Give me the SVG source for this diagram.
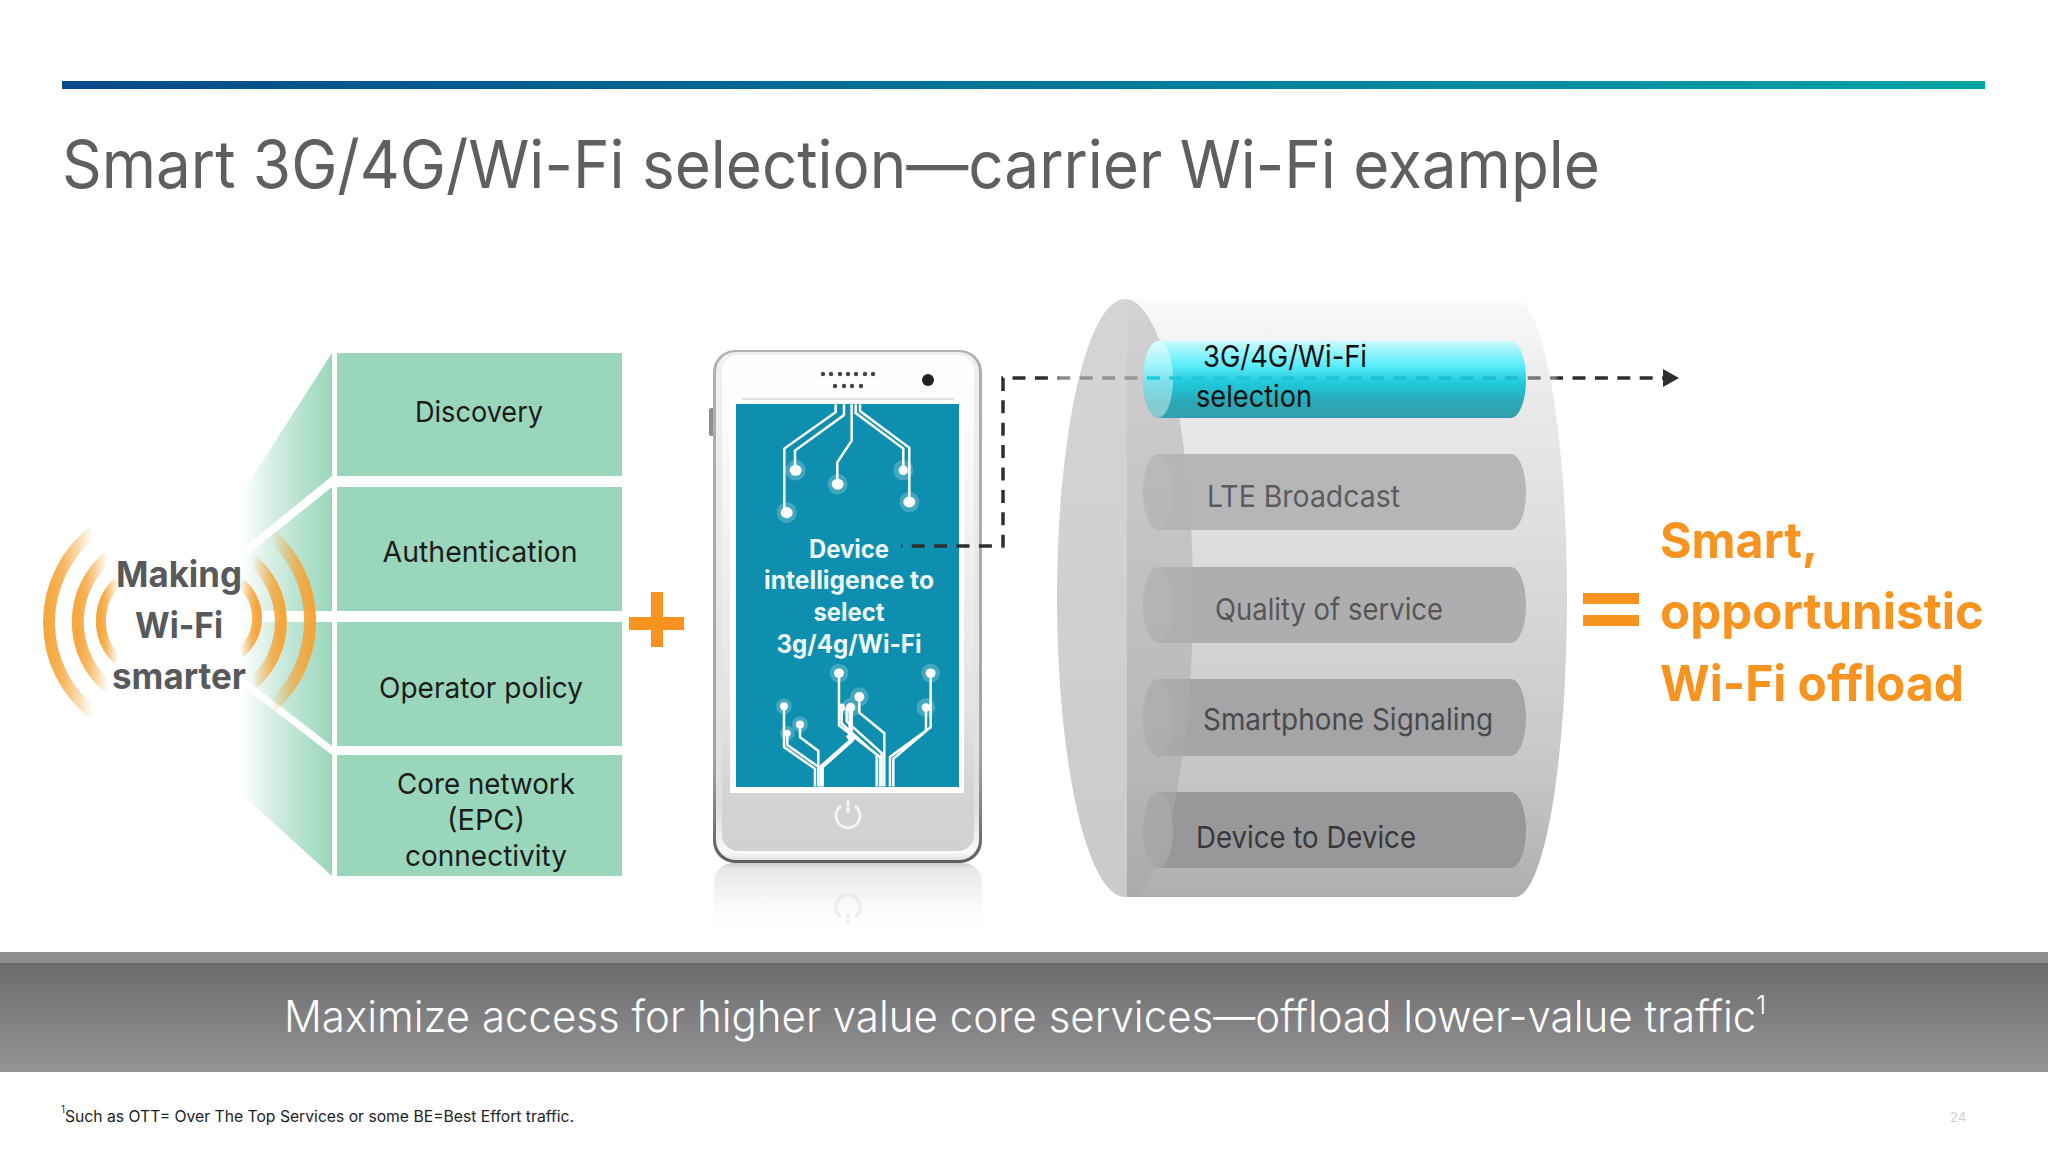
<svg xmlns="http://www.w3.org/2000/svg" width="2048" height="1153" viewBox="0 0 2048 1153">
<style>
text{font-family:"Inter","Liberation Sans",sans-serif;}
.box{fill:#9AD6BC}
.bt{font-size:29px;fill:#1c1c1c;text-anchor:middle;font-weight:400}
.wf{font-size:36px;font-weight:700;fill:#58595B;text-anchor:middle}
.ph{font-size:25px;font-weight:700;fill:#eef8fb;text-anchor:middle}
.sm{font-size:50px;font-weight:700;fill:#F7931E}
.ly{font-size:30px}
.or{fill:#F7931E}
.cap{fill:#fff;opacity:.14}
.dash{fill:none;stroke:url(#dashg);stroke-width:3.5;stroke-dasharray:13 9.4;stroke-dashoffset:11.7}
.tr{fill:none;stroke:#fff;stroke-width:2.5;vector-effect:non-scaling-stroke}
.trb{fill:none;stroke:#fff;stroke-width:4.5;vector-effect:non-scaling-stroke}
.glow{fill:#fff;opacity:.22}
</style>
<defs>
<linearGradient id="rule" x1="0" x2="1" y1="0" y2="0"><stop offset="0" stop-color="#05498A"/><stop offset="1" stop-color="#00A3A6"/></linearGradient>
<linearGradient id="band" x1="0" x2="0" y1="0" y2="1"><stop offset="0" stop-color="#6C6B6E"/><stop offset="1" stop-color="#949396"/></linearGradient>
<linearGradient id="wedge" gradientUnits="userSpaceOnUse" x1="332" y1="0" x2="240" y2="0"><stop offset="0" stop-color="#9AD6BC"/><stop offset=".45" stop-color="#9AD6BC" stop-opacity=".62"/><stop offset="1" stop-color="#9AD6BC" stop-opacity="0"/></linearGradient>
<linearGradient id="rl" x1="0" x2="1" y1="0" y2="0"><stop offset="0" stop-color="#F5A336" stop-opacity=".95"/><stop offset=".3" stop-color="#F5A336" stop-opacity=".8"/><stop offset=".7" stop-color="#F5A336" stop-opacity=".35"/><stop offset="1" stop-color="#F5A336" stop-opacity="0"/></linearGradient>
<linearGradient id="rr" x1="1" x2="0" y1="0" y2="0"><stop offset="0" stop-color="#F5A336" stop-opacity=".95"/><stop offset=".3" stop-color="#F5A336" stop-opacity=".8"/><stop offset=".7" stop-color="#F5A336" stop-opacity=".35"/><stop offset="1" stop-color="#F5A336" stop-opacity="0"/></linearGradient>
<linearGradient id="phoneEdge" x1="0" x2="0" y1="0" y2="1"><stop offset="0" stop-color="#B0B0B3"/><stop offset=".8" stop-color="#A4A4A7"/><stop offset="1" stop-color="#5E5E61"/></linearGradient>
<linearGradient id="phoneRim" x1="0" x2="0" y1="0" y2="1"><stop offset="0" stop-color="#F0F0F1"/><stop offset=".5" stop-color="#E6E6E7"/><stop offset=".9" stop-color="#DEDEE0"/><stop offset=".985" stop-color="#FAFAFA"/><stop offset="1" stop-color="#E0E0E1"/></linearGradient>
<linearGradient id="phoneIn" x1="0" x2="0" y1="0" y2="1"><stop offset="0" stop-color="#FFFFFF"/><stop offset=".1" stop-color="#FCFCFC"/><stop offset=".7" stop-color="#E4E4E5"/><stop offset=".88" stop-color="#D4D4D6"/><stop offset="1" stop-color="#D1D1D3"/></linearGradient>
<linearGradient id="refl" x1="0" x2="0" y1="0" y2="1"><stop offset="0" stop-color="#BEBEC1" stop-opacity=".8"/><stop offset=".07" stop-color="#E2E2E4" stop-opacity=".85"/><stop offset=".4" stop-color="#ECECED" stop-opacity=".6"/><stop offset="1" stop-color="#fff" stop-opacity="0"/></linearGradient>
<linearGradient id="cyl" x1="0" x2="0" y1="0" y2="1"><stop offset="0" stop-color="#FAFAFB"/><stop offset=".15" stop-color="#EBEBED"/><stop offset=".5" stop-color="#D8D8DB"/><stop offset=".8" stop-color="#C6C6C9"/><stop offset="1" stop-color="#AEAEB1"/></linearGradient>
<linearGradient id="capg" x1="0" x2="0" y1="0" y2="1"><stop offset="0" stop-color="#B9B9BC" stop-opacity=".6"/><stop offset="1" stop-color="#A8A8AB" stop-opacity=".6"/></linearGradient>
<linearGradient id="teal" x1="0" x2="0" y1="0" y2="1"><stop offset="0" stop-color="#C8FBFC"/><stop offset=".3" stop-color="#60EEFC"/><stop offset=".55" stop-color="#1FC8DA"/><stop offset=".8" stop-color="#2AA8B6"/><stop offset="1" stop-color="#32A0AC"/></linearGradient>
<linearGradient id="dashg" gradientUnits="userSpaceOnUse" x1="900" y1="0" x2="1680" y2="0">
<stop offset=".2" stop-color="#2E2E30"/><stop offset=".205" stop-color="#8C8C8F"/><stop offset=".31" stop-color="#9A9A9D"/><stop offset=".315" stop-color="#1CCBDC"/><stop offset=".8" stop-color="#1CBBCB"/><stop offset=".805" stop-color="#77777A"/><stop offset=".84" stop-color="#77777A"/><stop offset=".845" stop-color="#2E2E30"/></linearGradient>
<marker id="arrow" markerUnits="userSpaceOnUse" markerWidth="16" markerHeight="18" refX="15" refY="9" orient="auto"><path d="M0,0L16,9L0,18Z" fill="#2e2e30"/></marker>
</defs>
<rect width="2048" height="1153" fill="#fff"/>
<rect id="rule-bar" x="62" y="81" width="1923" height="8" fill="url(#rule)"/>
<text id="title" x="62" y="188" font-size="66" font-weight="400" fill="#5E5F61" textLength="1538" lengthAdjust="spacingAndGlyphs">Smart 3G/4G/Wi-Fi selection—carrier Wi-Fi example</text>

<g id="wedges">
<polygon fill="url(#wedge)" points="332,353 332,476 237,553 237,501"/>
<polygon fill="url(#wedge)" points="332,487 332,611 237,611 237,563"/>
<polygon fill="url(#wedge)" points="332,622 332,746 237,673 237,622"/>
<polygon fill="url(#wedge)" points="332,755 332,876 237,790 237,682"/>
</g>
<g id="node-discovery"><rect class="box" x="337" y="353" width="285" height="123"/><text class="bt" x="479" y="422" textLength="128" lengthAdjust="spacingAndGlyphs">Discovery</text></g>
<g id="node-authentication"><rect class="box" x="337" y="487" width="285" height="124"/><text class="bt" x="480" y="562" textLength="195" lengthAdjust="spacingAndGlyphs">Authentication</text></g>
<g id="node-policy"><rect class="box" x="337" y="622" width="285" height="124"/><text class="bt" x="481" y="698" textLength="204" lengthAdjust="spacingAndGlyphs">Operator policy</text></g>
<g id="node-core"><rect class="box" x="337" y="755" width="285" height="121"/>
<text class="bt" x="486" y="794" textLength="178" lengthAdjust="spacingAndGlyphs">Core network</text>
<text class="bt" x="486" y="830" textLength="78" lengthAdjust="spacingAndGlyphs">(EPC)</text>
<text class="bt" x="486" y="866" textLength="162" lengthAdjust="spacingAndGlyphs">connectivity</text></g>

<g id="node-wifi">
<path stroke="url(#rl)" stroke-width="12" d="M93,532A115,115 0 0 0 93,713" fill="none"/>
<path stroke="url(#rl)" stroke-width="12" d="M108,557A85,85 0 0 0 108,687" fill="none"/>
<path stroke="url(#rl)" stroke-width="10" d="M118,582A53,53 0 0 0 118,660" fill="none"/>
<path stroke="url(#rr)" stroke-width="12" d="M271,535A114,114 0 0 1 271,707" fill="none"/>
<path stroke="url(#rr)" stroke-width="12" d="M252,560A81,81 0 0 1 252,684" fill="none"/>
<path stroke="url(#rr)" stroke-width="10" d="M240,583A44.5,44.5 0 0 1 240,653" fill="none"/>
<text class="wf" x="179" y="587" textLength="126" lengthAdjust="spacingAndGlyphs">Making</text>
<text class="wf" x="179" y="638" textLength="88" lengthAdjust="spacingAndGlyphs">Wi-Fi</text>
<text class="wf" x="179" y="689" textLength="134" lengthAdjust="spacingAndGlyphs">smarter</text>
</g>

<g id="plus"><rect class="or" x="629" y="617" width="55" height="13"/><rect class="or" x="651" y="592" width="12" height="55"/></g>

<g id="node-phone">
<path d="M714,885Q714,864 734,863H962Q982,864 982,885V936H714Z" fill="url(#refl)"/>
<path d="M841,917A12,12 0 1 1 855,917M848,914V924" fill="none" stroke="#DDDDDF" stroke-width="3" opacity=".45"/>
<rect x="709" y="408" width="6" height="28" rx="2" fill="#8f8f92"/>
<rect x="713" y="350" width="269" height="513" rx="22" fill="url(#phoneEdge)"/>
<rect x="716" y="352" width="263" height="508" rx="20" fill="url(#phoneRim)"/>
<rect x="722" y="355" width="252" height="496" rx="16" fill="url(#phoneIn)"/>
<rect x="730" y="399" width="234" height="394" fill="#fff"/>
<line x1="742" y1="399" x2="954" y2="399" stroke="#c4c4c6" stroke-width="1"/>
<rect x="736" y="404" width="223" height="383" fill="#0F8FAF"/>
<g fill="#444"><circle cx="823" cy="374" r="2.2"/><circle cx="831" cy="374" r="2.2"/><circle cx="840" cy="374" r="2.2"/><circle cx="848" cy="374" r="2.2"/><circle cx="856" cy="374" r="2.2"/><circle cx="865" cy="374" r="2.2"/><circle cx="873" cy="374" r="2.2"/><circle cx="835" cy="386" r="2.2"/><circle cx="844" cy="386" r="2.2"/><circle cx="852" cy="386" r="2.2"/><circle cx="861" cy="386" r="2.2"/></g>
<circle cx="928" cy="380" r="6" fill="#222"/>
<g transform="translate(690,330) scale(.3333,.3953)">
<path class="tr" d="M437,188V208L283,300V460M462,188V215L315,305V350M485,188V280L442,335V388M497,188V210L640,300V352M510,188V205L658,298V432"/>
<path class="tr" d="M447,868V1000L570,1080V1155M508,928V968L583,1020V1155M722,868V1005L600,1080V1155M708,955V1015L610,1085V1155M282,952V1055L375,1110V1155M292,1020V1050L385,1105V1155M330,998V1030L385,1065V1105M455,955V995L560,1075V1155M470,955V990L575,1070V1155"/>
<path class="trb" d="M482,955V1040L395,1105V1155M472,1025L490,1040"/>
<g class="glow"><ellipse cx="290" cy="462" rx="30" ry="26"/><ellipse cx="317" cy="355" rx="30" ry="26"/><ellipse cx="443" cy="390" rx="30" ry="26"/><ellipse cx="640" cy="355" rx="30" ry="26"/><ellipse cx="658" cy="435" rx="30" ry="26"/><ellipse cx="447" cy="868" rx="28" ry="24"/><ellipse cx="722" cy="868" rx="28" ry="24"/><ellipse cx="508" cy="928" rx="28" ry="24"/><ellipse cx="708" cy="955" rx="28" ry="24"/><ellipse cx="482" cy="955" rx="28" ry="24"/><ellipse cx="282" cy="952" rx="24" ry="20"/><ellipse cx="330" cy="998" rx="24" ry="20"/><ellipse cx="292" cy="1020" rx="22" ry="18"/></g>
<g fill="#fff"><ellipse cx="290" cy="462" rx="18" ry="14"/><ellipse cx="317" cy="355" rx="18" ry="14"/><ellipse cx="443" cy="390" rx="18" ry="14"/><ellipse cx="640" cy="355" rx="14" ry="12"/><ellipse cx="658" cy="435" rx="18" ry="14"/><ellipse cx="447" cy="868" rx="15" ry="12"/><ellipse cx="722" cy="868" rx="15" ry="12"/><ellipse cx="508" cy="928" rx="15" ry="12"/><ellipse cx="708" cy="955" rx="13" ry="11"/><ellipse cx="482" cy="955" rx="14" ry="12"/><ellipse cx="455" cy="955" rx="10" ry="10"/><ellipse cx="282" cy="952" rx="12" ry="10"/><ellipse cx="330" cy="998" rx="12" ry="10"/><ellipse cx="292" cy="1020" rx="10" ry="9"/></g>
</g>
<text class="ph" x="849" y="558" textLength="80" lengthAdjust="spacingAndGlyphs">Device</text>
<text class="ph" x="849" y="589" textLength="170" lengthAdjust="spacingAndGlyphs">intelligence to</text>
<text class="ph" x="849" y="621" textLength="71" lengthAdjust="spacingAndGlyphs">select</text>
<text class="ph" x="849" y="653" textLength="145" lengthAdjust="spacingAndGlyphs">3g/4g/Wi-Fi</text>
<path d="M841,806A12,12 0 1 0 855,806M848,800V813" fill="none" stroke="#F4F4F5" stroke-width="3"/>
</g>

<g id="node-cylinder">
<path d="M1127,299H1515A52,299 0 0 1 1515,897H1127Z" fill="url(#cyl)"/>
</g>
<g id="node-lte"><rect x="1143" y="454" width="383" height="76" rx="15" ry="38" fill="#B6B6B9"/><ellipse class="cap" cx="1158" cy="492" rx="15" ry="38"/><text class="ly" x="1207" y="507" fill="#5c5c5e" textLength="193" lengthAdjust="spacingAndGlyphs">LTE Broadcast</text></g>
<g id="node-qos"><rect x="1143" y="567" width="383" height="76" rx="15" ry="38" fill="#AEAEB1"/><ellipse class="cap" cx="1158" cy="605" rx="15" ry="38"/><text class="ly" x="1215" y="620" fill="#565658" textLength="228" lengthAdjust="spacingAndGlyphs">Quality of service</text></g>
<g id="node-signaling"><rect x="1143" y="679" width="383" height="77" rx="15" ry="38" fill="#A5A5A8"/><ellipse class="cap" cx="1158" cy="717" rx="15" ry="38"/><text class="ly" x="1203" y="730" fill="#4a4a4c" textLength="290" lengthAdjust="spacingAndGlyphs">Smartphone Signaling</text></g>
<g id="node-d2d"><rect x="1143" y="792" width="383" height="76" rx="15" ry="38" fill="#98989B"/><ellipse class="cap" cx="1158" cy="830" rx="15" ry="38"/><text class="ly" x="1196" y="848" fill="#38383a" textLength="220" lengthAdjust="spacingAndGlyphs">Device to Device</text></g>
<g id="cylinder-cap"><ellipse cx="1125" cy="598" rx="68" ry="299" fill="url(#capg)"/></g>
<g id="node-selection">
<rect x="1143" y="341" width="383" height="77" rx="15" ry="38" fill="url(#teal)"/>
<ellipse cx="1158" cy="379.500" rx="15" ry="38.500" fill="#fff" opacity=".42"/>
<text class="ly" x="1203" y="367" fill="#111" textLength="164" lengthAdjust="spacingAndGlyphs">3G/4G/Wi-Fi</text>
<text class="ly" x="1196" y="407" fill="#111" textLength="116" lengthAdjust="spacingAndGlyphs">selection</text>
</g>

<g id="connectors">
<path class="dash" d="M901,546H1003V378H1678" marker-end="url(#arrow)"/>
</g>

<g id="equals"><rect class="or" x="1583" y="593" width="56" height="11"/><rect class="or" x="1583" y="615" width="56" height="11"/></g>
<g id="node-result">
<text class="sm" x="1660" y="558" textLength="158" lengthAdjust="spacingAndGlyphs">Smart,</text>
<text class="sm" x="1660" y="629" textLength="324" lengthAdjust="spacingAndGlyphs">opportunistic</text>
<text class="sm" x="1660" y="701" textLength="304" lengthAdjust="spacingAndGlyphs">Wi-Fi offload</text>
</g>

<g id="banner">
<rect x="0" y="952" width="2048" height="11" fill="#8E8D90"/>
<rect x="0" y="963" width="2048" height="109" fill="url(#band)"/>
<text x="284" y="1032" font-size="44" font-weight="300" fill="#fff" textLength="1482" lengthAdjust="spacingAndGlyphs">Maximize access for higher value core services—offload lower-value traffic<tspan font-size="26" dy="-18">1</tspan></text>
</g>
<text x="61" y="1122" font-size="16" fill="#222" textLength="513" lengthAdjust="spacingAndGlyphs"><tspan font-size="10" dy="-9">1</tspan><tspan dy="9">Such as OTT= Over The Top Services or some BE=Best Effort traffic.</tspan></text>
<text x="1950" y="1122" font-size="13" fill="#cfcfcf">24</text>
</svg>
